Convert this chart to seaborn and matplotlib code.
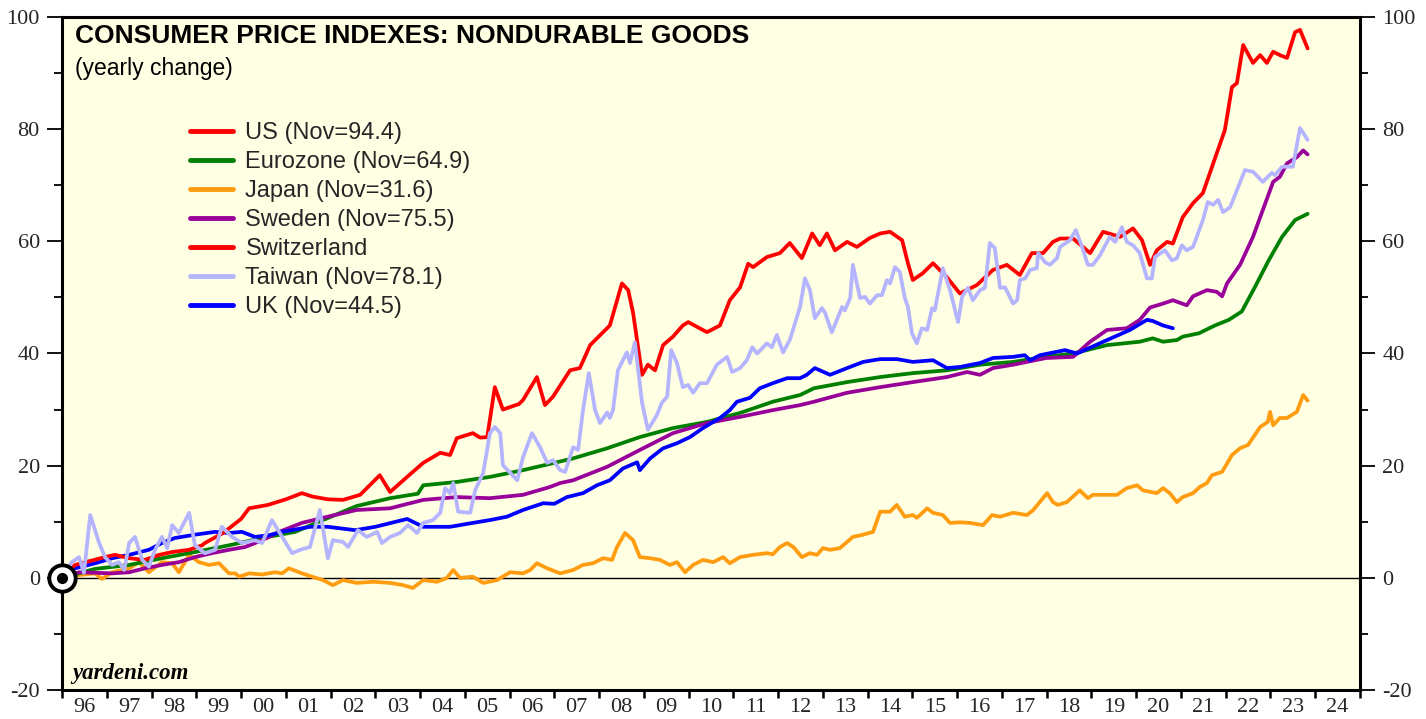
import numpy as np
import pandas as pd
import matplotlib
matplotlib.use("Agg")
import matplotlib.pyplot as plt
import seaborn as sns
from matplotlib.lines import Line2D
from matplotlib.ticker import FixedLocator, MultipleLocator, NullFormatter

# ---------------- data (cumulative % change since Jan 1996) ----------------
series_names = ["US", "Eurozone", "Japan", "Sweden", "Switzerland", "Taiwan", "UK"]
legend_labels = ["US (Nov=94.4)", "Eurozone (Nov=64.9)", "Japan (Nov=31.6)",
                 "Sweden (Nov=75.5)", "Switzerland", "Taiwan (Nov=78.1)", "UK (Nov=44.5)"]
colors = {"US": "#FF0000", "Eurozone": "#008000", "Japan": "#FF9C10",
          "Sweden": "#990099", "Switzerland": "#FF0000", "Taiwan": "#B4B4FF", "UK": "#0000FF"}

us_year = [1996.00, 1996.29, 1996.96, 1997.18, 1997.50, 1997.85, 1998.17, 1998.46, 1998.84, 1999.13,
           1999.19, 1999.60, 2000.00, 2000.18, 2000.60, 2001.00, 2001.36, 2001.59, 2001.94, 2002.28,
           2002.66, 2003.10, 2003.33, 2003.71, 2004.07, 2004.45, 2004.67, 2004.82, 2005.18, 2005.34,
           2005.50, 2005.67, 2005.85, 2006.21, 2006.30, 2006.61, 2006.79, 2006.97, 2007.35, 2007.57,
           2007.80, 2008.24, 2008.51, 2008.65, 2008.76, 2008.96, 2009.09, 2009.25, 2009.43, 2009.65,
           2009.87, 2009.99, 2010.41, 2010.70, 2010.92, 2011.15, 2011.33, 2011.44, 2011.75, 2012.04,
           2012.26, 2012.53, 2012.76, 2012.93, 2013.09, 2013.27, 2013.54, 2013.76, 2014.05, 2014.28,
           2014.50, 2014.77, 2014.90, 2015.01, 2015.23, 2015.46, 2015.77, 2016.06, 2016.44, 2016.80,
           2017.11, 2017.40, 2017.67, 2017.92, 2018.14, 2018.30, 2018.59, 2018.97, 2019.26, 2019.64,
           2019.93, 2020.13, 2020.31, 2020.46, 2020.69, 2020.82, 2021.04, 2021.27, 2021.49, 2021.80,
           2021.98, 2022.14, 2022.25, 2022.39, 2022.61, 2022.77, 2022.92, 2023.06, 2023.21, 2023.37,
           2023.55, 2023.66, 2023.83]
us_value = [0.0, 2.3, 3.7, 4.1, 3.5, 3.2, 4.1, 4.6, 5.0, 5.8,
            6.2, 8.0, 10.5, 12.4, 13.0, 14.0, 15.1, 14.5, 14.0, 13.9,
            14.8, 18.3, 15.3, 18.0, 20.5, 22.3, 21.9, 24.9, 25.8, 25.0,
            25.1, 34.0, 30.0, 31.0, 31.7, 35.8, 30.8, 32.3, 37.0, 37.4,
            41.5, 45.0, 52.5, 51.3, 47.2, 36.2, 38.0, 37.0, 41.5, 43.0,
            45.0, 45.6, 43.8, 45.0, 49.5, 51.8, 56.0, 55.4, 57.2, 57.9,
            59.7, 57.0, 61.4, 59.3, 61.4, 58.4, 59.9, 59.0, 60.6, 61.4,
            61.7, 60.2, 56.1, 53.1, 54.3, 56.1, 53.6, 50.7, 52.2, 54.9,
            55.8, 54.0, 57.9, 57.9, 59.9, 60.5, 60.5, 57.9, 61.7, 60.8,
            62.3, 60.2, 55.8, 58.4, 59.9, 59.6, 64.3, 66.8, 68.6, 75.7,
            79.8, 87.5, 88.2, 95.0, 91.8, 93.2, 91.8, 93.8, 93.2, 92.7,
            97.3, 97.7, 94.4]

euro_year = [1996.00, 1996.74, 1997.50, 1998.23, 1998.97, 1999.73, 2000.47, 2001.21, 2001.83, 2002.58,
             2003.33, 2003.95, 2004.07, 2004.82, 2005.56, 2006.30, 2007.05, 2007.42, 2008.18, 2008.91,
             2009.65, 2010.41, 2011.15, 2011.88, 2012.49, 2012.80, 2013.54, 2014.28, 2015.01, 2015.77,
             2016.51, 2017.25, 2017.99, 2018.59, 2019.35, 2020.08, 2020.37, 2020.60, 2020.91, 2021.04,
             2021.40, 2021.76, 2022.07, 2022.36, 2022.65, 2022.96, 2023.26, 2023.55, 2023.83]
euro_value = [0.0, 1.6, 2.3, 3.5, 4.6, 5.8, 7.1, 8.2, 10.3, 12.8,
              14.2, 15.0, 16.5, 17.1, 18.0, 19.2, 20.6, 21.3, 23.1, 25.1,
              26.7, 27.8, 29.4, 31.4, 32.6, 33.8, 34.9, 35.8, 36.5, 37.0,
              38.0, 38.5, 39.4, 40.0, 41.5, 42.1, 42.7, 42.1, 42.4, 43.0,
              43.6, 45.0, 46.0, 47.5, 51.8, 56.6, 60.8, 63.8, 64.9]

japan_year = [1996.00, 1996.38, 1996.74, 1996.89, 1997.12, 1997.50, 1997.72, 1997.94, 1998.23, 1998.46,
              1998.61, 1998.84, 1999.06, 1999.28, 1999.51, 1999.73, 1999.87, 1999.96, 2000.18, 2000.47,
              2000.76, 2000.92, 2001.07, 2001.36, 2001.59, 2001.83, 2002.05, 2002.28, 2002.58, 2002.95,
              2003.33, 2003.62, 2003.84, 2004.07, 2004.38, 2004.60, 2004.74, 2004.89, 2005.18, 2005.41,
              2005.72, 2006.01, 2006.30, 2006.46, 2006.61, 2006.84, 2007.13, 2007.42, 2007.64, 2007.86,
              2008.09, 2008.29, 2008.40, 2008.58, 2008.76, 2008.91, 2009.14, 2009.36, 2009.58, 2009.74,
              2009.92, 2010.10, 2010.32, 2010.55, 2010.77, 2010.92, 2011.15, 2011.44, 2011.75, 2011.88,
              2012.04, 2012.20, 2012.34, 2012.53, 2012.71, 2012.87, 2013.00, 2013.16, 2013.38, 2013.67,
              2013.90, 2014.12, 2014.28, 2014.50, 2014.65, 2014.83, 2015.01, 2015.10, 2015.33, 2015.46,
              2015.68, 2015.84, 2016.06, 2016.28, 2016.58, 2016.78, 2016.96, 2017.25, 2017.56, 2017.70,
              2018.01, 2018.14, 2018.25, 2018.45, 2018.74, 2018.92, 2019.03, 2019.35, 2019.57, 2019.79,
              2020.02, 2020.15, 2020.46, 2020.60, 2020.75, 2020.91, 2021.04, 2021.27, 2021.42, 2021.58,
              2021.69, 2021.92, 2022.14, 2022.32, 2022.50, 2022.77, 2022.94, 2022.99, 2023.06, 2023.21,
              2023.37, 2023.59, 2023.73, 2023.83]
japan_value = [0.0, 0.5, 0.8, -0.2, 1.0, 1.7, 2.8, 1.0, 2.8, 2.6,
               1.0, 4.1, 2.8, 2.3, 2.6, 0.8, 0.8, 0.2, 0.8, 0.6,
               1.0, 0.8, 1.7, 0.8, 0.2, -0.4, -1.3, -0.4, -0.9, -0.7,
               -0.9, -1.3, -1.8, -0.4, -0.7, 0.0, 1.4, 0.0, 0.2, -0.9,
               -0.4, 1.0, 0.8, 1.4, 2.6, 1.7, 0.8, 1.4, 2.3, 2.6,
               3.5, 3.2, 5.5, 8.0, 6.7, 3.7, 3.5, 3.2, 2.3, 2.8,
               1.0, 2.3, 3.2, 2.8, 3.7, 2.6, 3.7, 4.1, 4.4, 4.2,
               5.5, 6.2, 5.5, 3.7, 4.4, 4.1, 5.3, 5.0, 5.3, 7.3,
               7.7, 8.2, 11.8, 11.8, 13.0, 10.9, 11.2, 10.7, 12.4, 11.6,
               11.2, 9.8, 9.9, 9.8, 9.4, 11.2, 10.9, 11.6, 11.2, 12.1,
               15.1, 13.5, 13.0, 13.5, 15.6, 14.2, 14.8, 14.8, 14.8, 16.0,
               16.5, 15.6, 15.1, 16.0, 15.1, 13.5, 14.4, 15.1, 16.2, 16.9,
               18.3, 18.9, 21.9, 23.1, 23.7, 26.9, 27.8, 29.6, 27.2, 28.5,
               28.5, 29.6, 32.6, 31.6]

sweden_year = [1996.00, 1996.38, 1997.12, 1997.50, 1997.85, 1998.23, 1998.61, 1998.97, 1999.35, 1999.73,
               2000.09, 2000.47, 2000.85, 2001.36, 2001.83, 2002.58, 2003.33, 2004.07, 2004.82, 2005.56,
               2006.30, 2006.90, 2007.13, 2007.42, 2008.18, 2008.91, 2009.65, 2010.41, 2011.15, 2011.88,
               2012.49, 2012.80, 2013.54, 2014.28, 2015.01, 2015.77, 2016.22, 2016.51, 2016.80, 2017.25,
               2017.99, 2018.59, 2018.97, 2019.35, 2019.79, 2020.08, 2020.31, 2020.60, 2020.82, 2021.13,
               2021.27, 2021.58, 2021.80, 2021.92, 2022.03, 2022.32, 2022.61, 2022.83, 2023.06, 2023.21,
               2023.37, 2023.59, 2023.73, 2023.83]
sweden_value = [0.0, 1.0, 0.8, 1.0, 1.7, 2.3, 2.8, 3.7, 4.4, 5.0,
                5.5, 6.7, 8.2, 9.8, 10.7, 12.1, 12.4, 13.9, 14.4, 14.2,
                14.8, 16.2, 16.9, 17.4, 19.8, 22.8, 25.8, 27.6, 28.7, 29.9,
                30.8, 31.4, 33.0, 34.0, 34.9, 35.8, 36.7, 36.2, 37.4, 38.0,
                39.2, 39.4, 42.1, 44.2, 44.5, 46.0, 48.2, 48.9, 49.5, 48.6,
                50.2, 51.3, 51.0, 50.2, 52.5, 55.8, 60.8, 65.6, 70.6, 71.5,
                73.9, 75.0, 76.2, 75.5]

switzerland_year = []
switzerland_value = []

taiwan_year = [1996.00, 1996.22, 1996.38, 1996.49, 1996.63, 1996.83, 1996.96, 1997.12, 1997.27, 1997.39,
               1997.50, 1997.63, 1997.79, 1997.94, 1998.08, 1998.23, 1998.35, 1998.46, 1998.61, 1998.84,
               1998.97, 1999.19, 1999.42, 1999.57, 1999.80, 2000.02, 2000.31, 2000.47, 2000.69, 2000.92,
               2001.14, 2001.32, 2001.54, 2001.76, 2001.94, 2002.05, 2002.28, 2002.39, 2002.61, 2002.81,
               2003.04, 2003.15, 2003.33, 2003.55, 2003.73, 2003.93, 2004.07, 2004.29, 2004.45, 2004.56,
               2004.67, 2004.74, 2004.85, 2005.12, 2005.23, 2005.41, 2005.56, 2005.67, 2005.79, 2005.85,
               2006.17, 2006.30, 2006.50, 2006.68, 2006.84, 2006.97, 2007.13, 2007.24, 2007.42, 2007.53,
               2007.64, 2007.77, 2007.91, 2008.02, 2008.18, 2008.24, 2008.31, 2008.42, 2008.62, 2008.69,
               2008.80, 2008.96, 2009.09, 2009.29, 2009.40, 2009.52, 2009.61, 2009.74, 2009.87, 2009.99,
               2010.10, 2010.25, 2010.41, 2010.63, 2010.86, 2010.97, 2011.15, 2011.30, 2011.42, 2011.53,
               2011.75, 2011.86, 2011.97, 2012.11, 2012.26, 2012.49, 2012.60, 2012.71, 2012.82, 2012.98,
               2013.05, 2013.20, 2013.43, 2013.49, 2013.61, 2013.67, 2013.83, 2013.94, 2014.05, 2014.21,
               2014.32, 2014.43, 2014.50, 2014.61, 2014.72, 2014.83, 2014.90, 2014.99, 2015.10, 2015.21,
               2015.33, 2015.44, 2015.50, 2015.68, 2015.84, 2016.02, 2016.11, 2016.24, 2016.35, 2016.51,
               2016.62, 2016.73, 2016.84, 2016.96, 2017.07, 2017.25, 2017.34, 2017.40, 2017.52, 2017.63,
               2017.78, 2017.81, 2017.96, 2018.07, 2018.23, 2018.30, 2018.52, 2018.65, 2018.79, 2018.92,
               2019.03, 2019.19, 2019.41, 2019.53, 2019.68, 2019.79, 2019.93, 2020.08, 2020.24, 2020.35,
               2020.42, 2020.64, 2020.80, 2020.91, 2021.02, 2021.13, 2021.27, 2021.49, 2021.60, 2021.72,
               2021.83, 2021.94, 2022.10, 2022.25, 2022.43, 2022.61, 2022.83, 2023.03, 2023.10, 2023.26,
               2023.50, 2023.66, 2023.83]
taiwan_value = [0.0, 2.8, 3.7, 0.9, 11.2, 6.2, 3.7, 2.3, 2.8, 1.4,
                6.2, 7.3, 3.2, 2.0, 5.0, 7.3, 5.3, 9.4, 8.0, 11.6,
                5.8, 4.4, 5.0, 9.1, 7.3, 6.2, 6.7, 6.2, 10.3, 7.3,
                4.4, 5.0, 5.5, 12.1, 3.5, 6.7, 6.4, 5.5, 8.5, 7.3,
                8.2, 6.2, 7.3, 8.0, 9.4, 8.0, 9.8, 10.3, 11.6, 16.0,
                15.1, 16.9, 11.8, 11.6, 15.6, 18.7, 25.8, 26.9, 25.8, 20.1,
                17.4, 21.5, 25.8, 23.3, 20.5, 21.0, 19.2, 18.9, 23.3, 22.8,
                29.9, 36.5, 29.9, 27.6, 29.5, 28.5, 29.9, 37.0, 40.2, 38.3,
                42.0, 31.2, 26.4, 29.0, 31.2, 32.3, 40.6, 38.3, 34.0, 34.4,
                33.0, 34.7, 34.7, 38.0, 39.4, 36.7, 37.4, 38.8, 41.1, 40.0,
                41.8, 41.1, 43.3, 40.2, 42.4, 48.3, 53.4, 51.3, 46.3, 48.1,
                47.2, 43.8, 48.3, 47.7, 49.9, 55.8, 49.9, 50.1, 48.9, 50.4,
                50.4, 53.1, 52.5, 55.4, 54.5, 49.9, 48.3, 43.6, 41.8, 44.5,
                44.2, 48.1, 47.7, 55.2, 51.3, 45.6, 50.1, 51.7, 49.5, 51.3,
                51.7, 59.7, 58.8, 51.7, 51.8, 48.9, 49.5, 53.1, 53.4, 54.9,
                55.2, 57.9, 56.3, 55.8, 57.0, 59.0, 60.2, 62.0, 59.0, 55.8,
                55.8, 57.5, 60.8, 59.9, 62.5, 59.9, 59.3, 57.9, 53.4, 53.4,
                57.2, 58.4, 56.6, 57.0, 59.3, 58.4, 59.0, 63.8, 67.0, 66.5,
                67.4, 65.2, 66.1, 69.1, 72.7, 72.4, 70.6, 72.2, 71.8, 73.3,
                73.3, 80.2, 78.1]

uk_year = [1996.00, 1996.29, 1996.74, 1997.12, 1997.50, 1997.94, 1998.23, 1998.52, 1998.97, 1999.42,
           1999.73, 2000.02, 2000.31, 2000.62, 2000.92, 2001.20, 2001.54, 2001.94, 2002.55, 2003.00,
           2003.71, 2004.07, 2004.67, 2005.18, 2005.56, 2005.94, 2006.30, 2006.75, 2007.00, 2007.28,
           2007.64, 2007.95, 2008.24, 2008.53, 2008.85, 2008.91, 2009.14, 2009.43, 2009.74, 2010.03,
           2010.32, 2010.70, 2010.92, 2011.08, 2011.37, 2011.59, 2011.88, 2012.20, 2012.49, 2012.64,
           2012.82, 2013.16, 2013.54, 2013.90, 2014.28, 2014.65, 2015.01, 2015.46, 2015.77, 2016.06,
           2016.51, 2016.80, 2017.25, 2017.51, 2017.63, 2017.85, 2018.41, 2018.68, 2019.35, 2019.86,
           2020.24, 2020.37, 2020.60, 2020.82]
uk_value = [0.0, 1.7, 2.6, 3.5, 4.1, 5.0, 6.2, 7.1, 7.7, 8.2,
            8.0, 8.2, 7.3, 7.6, 8.2, 8.6, 9.1, 9.1, 8.5, 9.1,
            10.5, 9.1, 9.1, 9.8, 10.3, 10.9, 12.1, 13.3, 13.2, 14.4,
            15.1, 16.5, 17.4, 19.5, 20.6, 19.2, 21.3, 23.1, 24.0, 25.1,
            26.7, 28.5, 29.9, 31.4, 32.1, 33.8, 34.7, 35.6, 35.6, 36.2,
            37.4, 36.2, 37.4, 38.5, 39.0, 39.0, 38.5, 38.8, 37.4, 37.6,
            38.3, 39.2, 39.4, 39.7, 38.8, 39.7, 40.6, 40.0, 42.4, 44.2,
            46.0, 45.8, 45.0, 44.5]

year_ticks = list(range(1996, 2026))
year_labels = [f"{y % 100:02d}" for y in range(1996, 2025)]

# ---------------- build long table ----------------
data_map = {
    "US": (us_year, us_value), "Eurozone": (euro_year, euro_value),
    "Japan": (japan_year, japan_value), "Sweden": (sweden_year, sweden_value),
    "Switzerland": (switzerland_year, switzerland_value),
    "Taiwan": (taiwan_year, taiwan_value), "UK": (uk_year, uk_value),
}
frames = [pd.DataFrame({"year": x, "value": v, "series": n})
          for n, (x, v) in data_map.items() if len(x)]
df = pd.concat(frames, ignore_index=True)

draw_order = ["Japan", "Eurozone", "Sweden", "UK", "US", "Taiwan"]

# ---------------- figure ----------------
sns.set_theme(style="white")
plt.rcParams["font.family"] = ["Liberation Sans", "DejaVu Sans"]
plt.rcParams["axes.unicode_minus"] = False

fig = plt.figure(figsize=(14.26, 7.19), dpi=100)
ax = fig.add_axes([0.0435, 0.0403, 0.9102, 0.9361])
ax.set_facecolor("#FFFFE4")

sns.lineplot(data=df, x="year", y="value", hue="series", hue_order=draw_order,
             palette=colors, estimator=None, sort=False, linewidth=2.7,
             legend=False, ax=ax)

ax.axhline(0, color="black", lw=1.0, zorder=1)

# start marker
ax.plot(us_year[0], us_value[0], "o", ms=19, mfc="white", mec="black", mew=2.8,
        clip_on=False, zorder=10)
ax.plot(us_year[0], us_value[0], "o", ms=7, color="black", clip_on=False, zorder=11)

ax.set_xlim(1996, 2025)
ax.set_ylim(-20, 100)
ax.set_xlabel("")
ax.set_ylabel("")

for s in ax.spines.values():
    s.set_visible(True)
    s.set_color("black")
    s.set_linewidth(2.2)

serif = ["Liberation Serif", "DejaVu Serif"]

# x axis
ax.xaxis.set_major_locator(FixedLocator(year_ticks))
ax.xaxis.set_major_formatter(NullFormatter())
ax.xaxis.set_minor_locator(FixedLocator([y + 0.5 for y in year_ticks[:-1]]))
ax.set_xticklabels(year_labels, minor=True, fontfamily=serif, fontsize=16)
ax.tick_params(axis="x", which="major", direction="out", length=6, width=1.8,
               bottom=True, color="black")
ax.tick_params(axis="x", which="minor", length=0, pad=6, bottom=True)

# y axes
ax.yaxis.set_major_locator(MultipleLocator(20))
ax.yaxis.set_minor_locator(MultipleLocator(10))
ax.tick_params(axis="y", which="major", direction="out", length=11, width=1.3,
               left=True, right=True, labelleft=True, labelright=True, pad=5,
               color="black", labelsize=16)
ax.tick_params(axis="y", which="minor", direction="out", length=6, width=1.3,
               left=True, right=True, color="black")
for lab in ax.get_yticklabels():
    lab.set_fontfamily(serif)

# texts
ax.text(0.010, 0.990, "CONSUMER PRICE INDEXES: NONDURABLE GOODS", transform=ax.transAxes,
        ha="left", va="top", fontsize=19, fontweight="bold", color="black")
ax.text(0.010, 0.941, "(yearly change)", transform=ax.transAxes,
        ha="left", va="top", fontsize=16.5, color="black")
ax.text(0.0077, 0.016, "yardeni.com", transform=ax.transAxes, ha="left", va="baseline",
        fontsize=16.5, fontweight="bold", fontstyle="italic", fontfamily=serif, color="black")

# legend
handles = [Line2D([0], [0], color=colors[n], lw=3.5) for n in series_names]
ax.legend(handles, legend_labels, loc="upper left", bbox_to_anchor=(0.0986, 0.844),
          frameon=False, fontsize=17, handlelength=1.8, handletextpad=0.55,
          labelspacing=0.30, borderpad=0, borderaxespad=0)

fig.savefig("out.png", dpi=100, facecolor="white")
